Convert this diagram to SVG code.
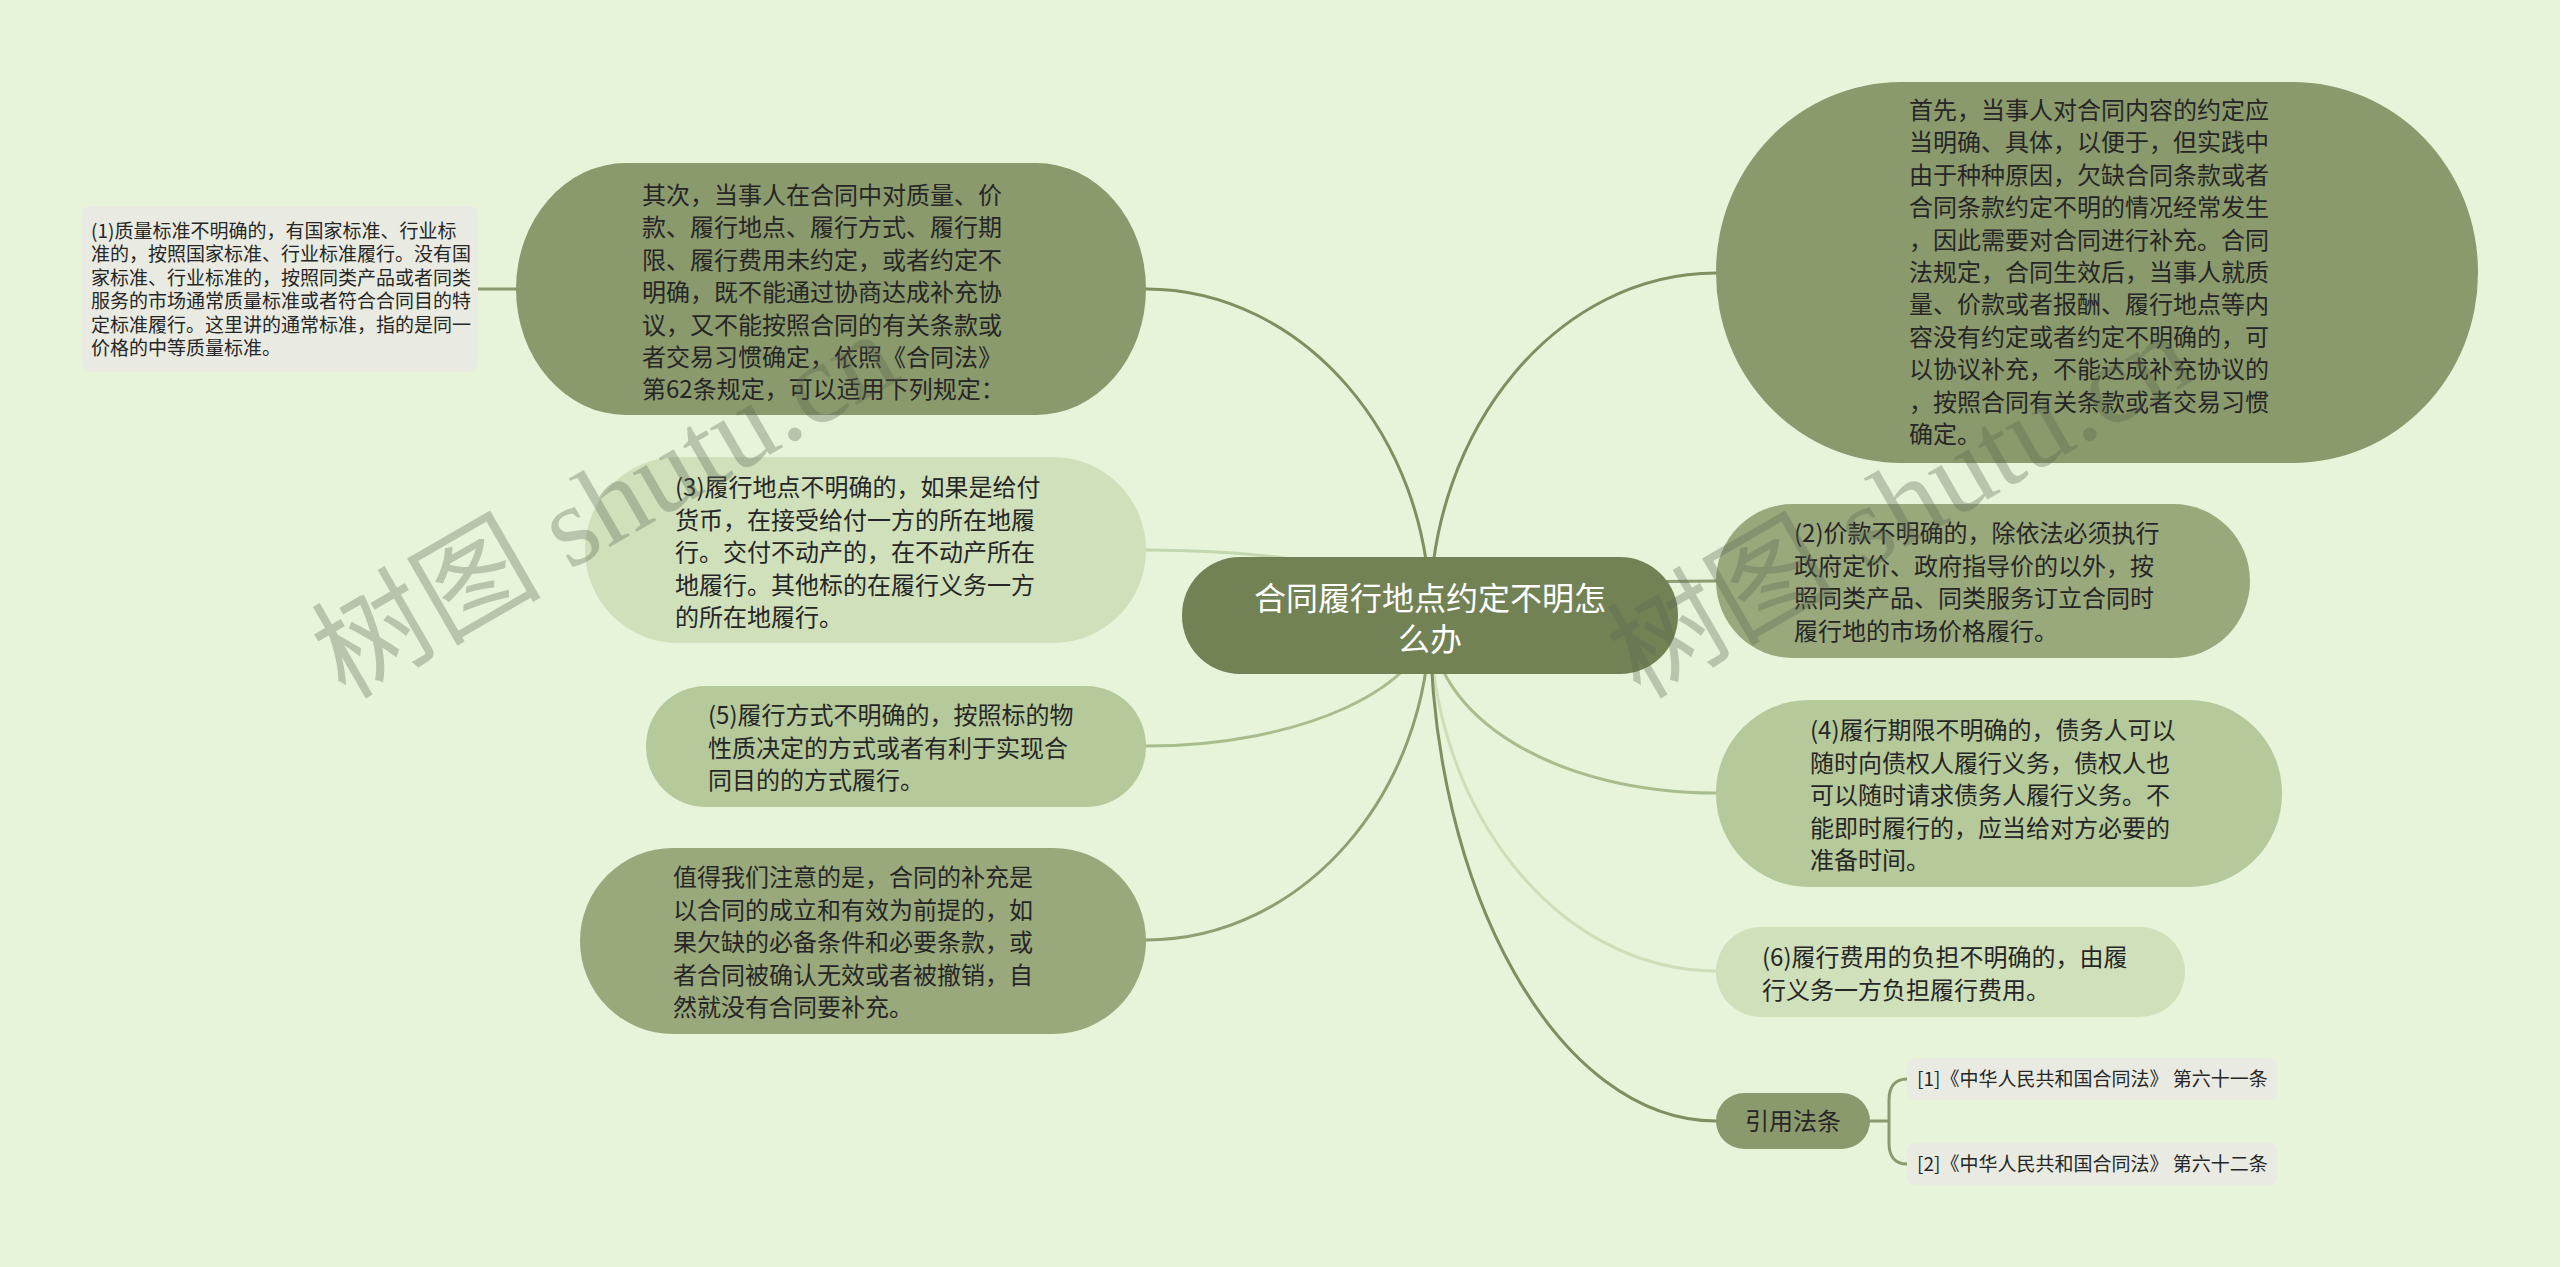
<svg xmlns="http://www.w3.org/2000/svg" width="2560" height="1267" viewBox="0 0 2560 1267">
<style>
.t{font-family:"Noto Sans CJK SC","Noto Sans",sans-serif;fill:#262626;}
.t24{font-size:24px;}
.t19{font-size:19px;}
.ct{font-family:"Noto Sans CJK SC","Noto Sans",sans-serif;font-size:32px;fill:#ffffff;text-anchor:middle;}
.c{fill:none;stroke-width:3;stroke-linecap:round;}
.wm{font-family:"Liberation Serif","Noto Sans CJK SC",serif;font-size:115px;fill:#5a6650;opacity:0.33;}
.dark{fill:#8a9a6c;}
.mid{fill:#99a97c;}
.lmid{fill:#b5c99a;}
.light{fill:#cfe0bb;}
.note{fill:#e9ebe2;}
</style>
<rect x="0" y="0" width="2560" height="1267" fill="#e7f4da"/>

<g id="connectors">
<path class="c" stroke="#7f8f60" d="M1430,615 C1430,436 1302,289 1146,289"/>
<path class="c" stroke="#c4d6ad" d="M1430,615 C1430,579 1302,550 1146,550"/>
<path class="c" stroke="#a9bd8c" d="M1430,615 C1430,687 1302,746 1146,746"/>
<path class="c" stroke="#8f9f71" d="M1430,615 C1430,794 1302,940 1146,940"/>
<path class="c" stroke="#7f8f60" d="M1430,615 C1430,427 1559,273 1716,273"/>
<path class="c" stroke="#8d9c72" d="M1430,615 C1430,596 1559,581 1716,581"/>
<path class="c" stroke="#a9bd8c" d="M1430,615 C1430,720 1559,793 1716,793"/>
<path class="c" stroke="#cddeb9" d="M1430,615 C1430,811 1559,971 1716,971"/>
<path class="c" stroke="#7f8f60" d="M1430,615 C1430,893 1559,1121 1716,1121"/>
<path class="c" stroke="#8a9a6c" stroke-width="2" d="M478,289 L516,289"/>
<path class="c" stroke="#8a9a6c" d="M1870,1121 L1889,1121 M1907,1079 C1894,1079 1889,1088 1889,1100 L1889,1143 C1889,1155 1894,1164 1907,1164"/>
</g>

<g id="center">
<rect x="1182" y="557" width="496" height="117" rx="58" ry="58" fill="#738255"/>
<text class="ct"><tspan x="1430" y="610">合同履行地点约定不明怎</tspan><tspan x="1430" y="651">么办</tspan></text>
</g>

<g id="node-qici">
<rect class="dark" x="516" y="163" width="630" height="252" rx="110" ry="126"/>
<text class="t t24"><tspan x="642" y="204">其次，当事人在合同中对质量、价</tspan><tspan x="642" y="236.4">款、履行地点、履行方式、履行期</tspan><tspan x="642" y="268.8">限、履行费用未约定，或者约定不</tspan><tspan x="642" y="301.2">明确，既不能通过协商达成补充协</tspan><tspan x="642" y="333.6">议，又不能按照合同的有关条款或</tspan><tspan x="642" y="366">者交易习惯确定，依照《合同法》</tspan><tspan x="642" y="398.4">第62条规定，可以适用下列规定：</tspan></text>
</g>

<g id="note-1">
<rect class="note" x="82" y="206" width="396" height="166" rx="8" ry="8"/>
<text class="t t19"><tspan x="91" y="238">(1)质量标准不明确的，有国家标准、行业标</tspan><tspan x="91" y="261.4">准的，按照国家标准、行业标准履行。没有国</tspan><tspan x="91" y="284.8">家标准、行业标准的，按照同类产品或者同类</tspan><tspan x="91" y="308.2">服务的市场通常质量标准或者符合合同目的特</tspan><tspan x="91" y="331.6">定标准履行。这里讲的通常标准，指的是同一</tspan><tspan x="91" y="355">价格的中等质量标准。</tspan></text>
</g>

<g id="node-3">
<rect class="light" x="585" y="457" width="561" height="186" rx="93" ry="93"/>
<text class="t t24"><tspan x="675" y="496">(3)履行地点不明确的，如果是给付</tspan><tspan x="675" y="528.5">货币，在接受给付一方的所在地履</tspan><tspan x="675" y="561">行。交付不动产的，在不动产所在</tspan><tspan x="675" y="593.5">地履行。其他标的在履行义务一方</tspan><tspan x="675" y="626">的所在地履行。</tspan></text>
</g>

<g id="node-5">
<rect class="lmid" x="646" y="686" width="500" height="121" rx="60" ry="60"/>
<text class="t t24"><tspan x="708" y="724">(5)履行方式不明确的，按照标的物</tspan><tspan x="708" y="756.5">性质决定的方式或者有利于实现合</tspan><tspan x="708" y="789">同目的的方式履行。</tspan></text>
</g>

<g id="node-zhide">
<rect class="mid" x="580" y="848" width="566" height="186" rx="93" ry="93"/>
<text class="t t24"><tspan x="673" y="886">值得我们注意的是，合同的补充是</tspan><tspan x="673" y="918.5">以合同的成立和有效为前提的，如</tspan><tspan x="673" y="951">果欠缺的必备条件和必要条款，或</tspan><tspan x="673" y="983.5">者合同被确认无效或者被撤销，自</tspan><tspan x="673" y="1016">然就没有合同要补充。</tspan></text>
</g>

<g id="node-shouxian">
<rect class="dark" x="1716" y="82" width="762" height="381" rx="185" ry="190"/>
<text class="t t24"><tspan x="1909" y="119">首先，当事人对合同内容的约定应</tspan><tspan x="1909" y="151.4">当明确、具体，以便于，但实践中</tspan><tspan x="1909" y="183.8">由于种种原因，欠缺合同条款或者</tspan><tspan x="1909" y="216.2">合同条款约定不明的情况经常发生</tspan><tspan x="1909" y="248.6">，因此需要对合同进行补充。合同</tspan><tspan x="1909" y="281">法规定，合同生效后，当事人就质</tspan><tspan x="1909" y="313.4">量、价款或者报酬、履行地点等内</tspan><tspan x="1909" y="345.8">容没有约定或者约定不明确的，可</tspan><tspan x="1909" y="378.2">以协议补充，不能达成补充协议的</tspan><tspan x="1909" y="410.6">，按照合同有关条款或者交易习惯</tspan><tspan x="1909" y="443">确定。</tspan></text>
</g>

<g id="node-2">
<rect class="mid" x="1716" y="504" width="534" height="154" rx="77" ry="77"/>
<text class="t t24"><tspan x="1794" y="542">(2)价款不明确的，除依法必须执行</tspan><tspan x="1794" y="574.5">政府定价、政府指导价的以外，按</tspan><tspan x="1794" y="607">照同类产品、同类服务订立合同时</tspan><tspan x="1794" y="639.5">履行地的市场价格履行。</tspan></text>
</g>

<g id="node-4">
<rect class="lmid" x="1716" y="700" width="566" height="187" rx="93" ry="93"/>
<text class="t t24"><tspan x="1810" y="739">(4)履行期限不明确的，债务人可以</tspan><tspan x="1810" y="771.5">随时向债权人履行义务，债权人也</tspan><tspan x="1810" y="804">可以随时请求债务人履行义务。不</tspan><tspan x="1810" y="836.5">能即时履行的，应当给对方必要的</tspan><tspan x="1810" y="869">准备时间。</tspan></text>
</g>

<g id="node-6">
<rect class="light" x="1716" y="927" width="469" height="90" rx="45" ry="45"/>
<text class="t t24"><tspan x="1762" y="966">(6)履行费用的负担不明确的，由履</tspan><tspan x="1762" y="998.5">行义务一方负担履行费用。</tspan></text>
</g>

<g id="node-yinyong">
<rect class="dark" x="1716" y="1093" width="154" height="56" rx="28" ry="28"/>
<text class="t t24" x="1793" y="1130" text-anchor="middle">引用法条</text>
</g>

<g id="cite-1">
<rect class="note" x="1907" y="1058" width="370" height="42" rx="8" ry="8"/>
<text class="t t19" x="1917" y="1086">[1]《中华人民共和国合同法》 第六十一条</text>
</g>

<g id="cite-2">
<rect class="note" x="1907" y="1143" width="370" height="42" rx="8" ry="8"/>
<text class="t t19" x="1917" y="1171">[2]《中华人民共和国合同法》 第六十二条</text>
</g>

<g id="watermark">
<text class="wm" x="345" y="700" transform="rotate(-30 345 700)">树图 shutu.cn</text>
<text class="wm" x="1640" y="700" transform="rotate(-30 1640 700)">树图 shutu.cn</text>
</g>
</svg>
